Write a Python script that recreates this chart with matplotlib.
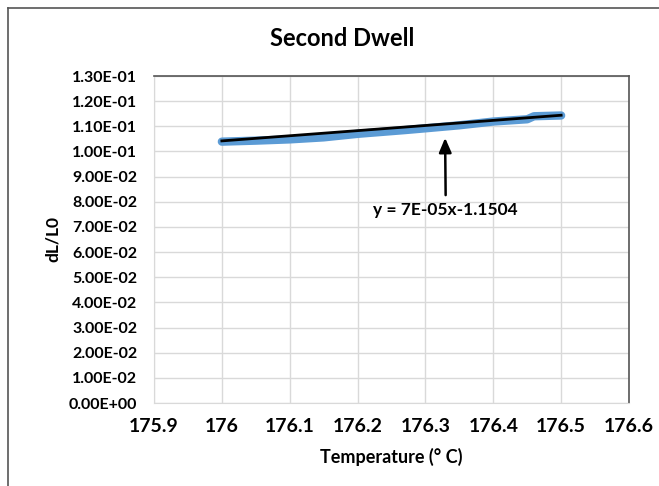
import numpy as np
import matplotlib
matplotlib.use("Agg")
import matplotlib.pyplot as plt
from matplotlib.lines import Line2D

temps = [176.00, 176.05, 176.10, 176.15, 176.20, 176.27, 176.30, 176.35, 176.37, 176.40, 176.45, 176.46, 176.50]
dl = [0.1039, 0.1043, 0.1048, 0.1056, 0.1070, 0.1085, 0.1092, 0.1104, 0.1110, 0.1119, 0.1128, 0.1140, 0.1143]
trend_x = [176.0, 176.5]
trend_y = [0.1042, 0.1144]
xticks = [175.9, 176.0, 176.1, 176.2, 176.3, 176.4, 176.5, 176.6]
xticklabels = ["175.9", "176", "176.1", "176.2", "176.3", "176.4", "176.5", "176.6"]
yticks = [i * 0.01 for i in range(14)]
yticklabels = ["0.00E+00", "1.00E-02", "2.00E-02", "3.00E-02", "4.00E-02", "5.00E-02", "6.00E-02",
               "7.00E-02", "8.00E-02", "9.00E-02", "1.00E-01", "1.10E-01", "1.20E-01", "1.30E-01"]
title = "Second Dwell"
xlabel = "Temperature (° C)"
ylabel = "dL/L0"
eq_text = "y = 7E-05x-1.1504"
arrow_tip = (176.329, 0.1054)
eq_pos = (176.33, 0.0767)

plt.rcParams['font.family'] = ['Lato', 'DejaVu Sans']

fig = plt.figure(figsize=(6.59, 4.86), dpi=100)
ax = fig.add_axes([154/659, 83/486, (629-154)/659, (403-76)/486])

ax.plot(temps, dl, color="#5b9bd5", lw=6.0, solid_capstyle="round", solid_joinstyle="round", zorder=3)
ax.plot(trend_x, trend_y, color="black", lw=2.0, zorder=4)

ax.set_xlim(175.9, 176.6)
ax.set_ylim(0, 0.13)
ax.set_xticks(xticks)
ax.set_xticklabels(xticklabels, fontsize=14, fontweight="bold")
ax.set_yticks(yticks)
ax.set_yticklabels(yticklabels, fontsize=11.5, fontweight="bold")
ax.tick_params(length=0)
ax.tick_params(axis="y", pad=12)
ax.tick_params(axis="x", pad=11)
ax.grid(True, color="#d9d9d9", lw=1.0)
ax.set_axisbelow(True)
for s in ["left", "bottom"]:
    ax.spines[s].set_color("#d9d9d9")
for s in ["top", "right"]:
    ax.spines[s].set_color("#555555")
    ax.spines[s].set_linewidth(1.2)

ax.set_xlabel(xlabel, fontsize=13, fontweight="bold", labelpad=9)
ax.set_ylabel(ylabel, fontsize=12.5, fontweight="bold", labelpad=6)
fig.text(342/659, 1 - 38/486, title, ha="center", va="center", fontsize=17, fontweight="bold")

ax.annotate(eq_text, xy=arrow_tip, xytext=eq_pos,
            ha="center", va="center", fontsize=12.5, fontweight="bold",
            arrowprops=dict(arrowstyle="-|>,head_length=0.7,head_width=0.3", color="black", lw=1.8,
                            shrinkA=3, shrinkB=0))

fig.add_artist(Line2D([8/659, 8/659], [0, 1 - 8/486], transform=fig.transFigure, color="#555555", lw=1.2))
fig.add_artist(Line2D([8/659, 1], [1 - 8/486, 1 - 8/486], transform=fig.transFigure, color="#555555", lw=1.2))

fig.savefig("out.png", dpi=100)
